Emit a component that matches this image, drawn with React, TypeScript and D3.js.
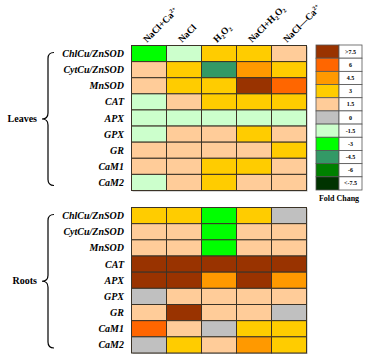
import * as d3 from "d3";
import React, { useEffect, useRef } from "react";

const treatments = ["NaCl+Ca2+", "NaCl", "H2O2", "NaCl+H2O2", "NaCl—Ca2+"];
const genes = ["ChlCu/ZnSOD", "CytCu/ZnSOD", "MnSOD", "CAT", "APX", "GPX", "GR", "CaM1", "CaM2"];

// fold change level per gene (rows) x treatment (columns)
const leaves = [
    [-3, -1.5, 3, 3, 1.5],
    [1.5, 3, -4.5, 4.5, 3],
    [1.5, 3, 3, 7.5, 6],
    [-1.5, 1.5, 3, 3, 3],
    [-1.5, -1.5, -1.5, -1.5, -1.5],
    [-1.5, 1.5, 1.5, 3, 1.5],
    [1.5, 1.5, 1.5, 1.5, 3],
    [1.5, 1.5, 3, 3, 1.5],
    [-1.5, 1.5, 3, 1.5, 1.5],
];
const roots = [
    [3, 3, -3, 3, 0],
    [1.5, 1.5, -3, 1.5, 1.5],
    [1.5, 1.5, -3, 1.5, 1.5],
    [7.5, 7.5, 7.5, 7.5, 7.5],
    [7.5, 7.5, 4.5, 7.5, 4.5],
    [0, 1.5, 1.5, 1.5, 1.5],
    [1.5, 7.5, 1.5, 1.5, 0],
    [6, 1.5, 0, 3, 3],
    [0, 3, 1.5, 4.5, 3],
];

const levels = [7.5, 6, 4.5, 3, 1.5, 0, -1.5, -3, -4.5, -6, -7.5];
const levelLabels = [">7.5", "6", "4.5", "3", "1.5", "0", "-1.5", "-3", "-4.5", "-6", "<-7.5"];
const levelColors = ["#993300", "#ff6600", "#ff9900", "#ffcc00", "#ffcc99", "#c0c0c0", "#ccffcc", "#00ff00", "#339966", "#008000", "#003300"];

const width = 376;
const height = 362;

// writes text with sub/superscripts like H2O2 and Ca2+
function richText(sel: d3.Selection<any, any, any, any>, label: string) {
    const parts = label.match(/Ca2\+|H2O2|[^CH]+|C|H/g) || [label];
    parts.forEach((p) => {
        if (p === "Ca2+") {
            sel.append("tspan").text("Ca");
            sel.append("tspan").attr("dy", -3.5).attr("font-size", 6).text("2+");
            sel.append("tspan").attr("dy", 3.5).text("");
        } else if (p === "H2O2") {
            sel.append("tspan").text("H");
            sel.append("tspan").attr("dy", 2).attr("font-size", 6).text("2");
            sel.append("tspan").attr("dy", -2).text("O");
            sel.append("tspan").attr("dy", 2).attr("font-size", 6).text("2");
            sel.append("tspan").attr("dy", -2).text("");
        } else {
            sel.append("tspan").text(p);
        }
    });
}

function bracePath(x: number, y0: number, y1: number) {
    const xr = x + 6, xm = x, xl = x - 6, r = 6;
    const ym = (y0 + y1) / 2;
    return `M${xr},${y0} Q${xm},${y0} ${xm},${y0 + r} L${xm},${ym - r} Q${xm},${ym} ${xl},${ym} ` +
        `Q${xm},${ym} ${xm},${ym + r} L${xm},${y1 - r} Q${xm},${y1} ${xr},${y1}`;
}

const App: React.FC = () => {
    const wrapper = useRef<SVGSVGElement>(null);

    useEffect(() => {
        if (!wrapper.current) return;
        const svg = d3.select(wrapper.current);
        svg.selectAll("*").remove();
        svg.append("rect").attr("width", width).attr("height", height).attr("fill", "#fff");

        const color = d3.scaleOrdinal<number, string>().domain(levels).range(levelColors);
        const x = d3.scaleBand<string>().domain(treatments).range([131.5, 306.5]);

        // column headers, rotated -45deg
        svg.selectAll(null)
            .data(treatments)
            .enter()
            .append("text")
            .attr("transform", (d) => `translate(${x(d)! + x.bandwidth() / 2 - 2},43) rotate(-45)`)
            .attr("font-family", "Liberation Serif, serif")
            .attr("font-weight", "bold")
            .attr("font-size", 9.5)
            .each(function (d) { richText(d3.select(this), d); });

        const panels: Array<[string, number[][], [number, number]]> = [
            ["Leaves", leaves, [45.5, 190.5]],
            ["Roots", roots, [207.5, 353]],
        ];

        panels.forEach(([name, values, range]) => {
            const y = d3.scaleBand<string>().domain(genes).range(range);
            const g = svg.append("g");

            g.append("rect")
                .attr("x", 132.5).attr("y", range[0] + 1)
                .attr("width", 175).attr("height", range[1] - range[0])
                .attr("fill", "#b0b0b0");

            const cells = values.flatMap((row, i) => row.map((v, j) => ({ gene: genes[i], t: treatments[j], v })));
            g.selectAll(null)
                .data(cells)
                .enter()
                .append("rect")
                .attr("x", (d) => x(d.t)!)
                .attr("y", (d) => y(d.gene)!)
                .attr("width", x.bandwidth())
                .attr("height", y.bandwidth())
                .attr("fill", (d) => color(d.v))
                .attr("stroke", "#3b3327")
                .attr("stroke-width", 1);

            g.selectAll(null)
                .data(genes)
                .enter()
                .append("text")
                .attr("x", 124)
                .attr("y", (d) => y(d)! + y.bandwidth() / 2 + 3.5)
                .attr("text-anchor", "end")
                .attr("font-family", "Liberation Serif, serif")
                .attr("font-weight", "bold")
                .attr("font-style", "italic")
                .attr("font-size", 10)
                .text((d) => d);

            const mid = (range[0] + range[1]) / 2;
            g.append("path")
                .attr("d", bracePath(48, range[0] + 7, range[1] - 5))
                .attr("fill", "none")
                .attr("stroke", "#000")
                .attr("stroke-width", 1.2);

            g.append("text")
                .attr("x", 37)
                .attr("y", mid + 4)
                .attr("text-anchor", "end")
                .attr("font-family", "Liberation Serif, serif")
                .attr("font-weight", "bold")
                .attr("font-size", 10)
                .text(name);
        });

        // legend
        const ly = d3.scaleBand<number>().domain(levels).range([45, 190]);
        const legend = svg.append("g");
        legend.selectAll(null)
            .data(levels)
            .enter()
            .append("rect")
            .attr("x", 316).attr("y", (d) => ly(d)!)
            .attr("width", 23).attr("height", ly.bandwidth())
            .attr("fill", (d) => color(d))
            .attr("stroke", "#555").attr("stroke-width", 0.8);
        legend.selectAll(null)
            .data(levels)
            .enter()
            .append("rect")
            .attr("x", 339).attr("y", (d) => ly(d)!)
            .attr("width", 23).attr("height", ly.bandwidth())
            .attr("fill", "#fff")
            .attr("stroke", "#555").attr("stroke-width", 0.8);
        legend.selectAll(null)
            .data(levels)
            .enter()
            .append("text")
            .attr("x", 350.5).attr("y", (d) => ly(d)! + ly.bandwidth() / 2 + 2)
            .attr("text-anchor", "middle")
            .attr("font-family", "Liberation Serif, serif")
            .attr("font-weight", "bold")
            .attr("font-size", 6)
            .text((_, i) => levelLabels[i]);
        legend.append("text")
            .attr("x", 339).attr("y", 201)
            .attr("text-anchor", "middle")
            .attr("font-family", "Liberation Serif, serif")
            .attr("font-weight", "bold")
            .attr("font-size", 8)
            .text("Fold Chang");
    }, []);

    return <svg ref={wrapper} width={width} height={height}
        style={{ position: "absolute", left: 0, top: 0, display: "block" }} />;
};

export default App;
